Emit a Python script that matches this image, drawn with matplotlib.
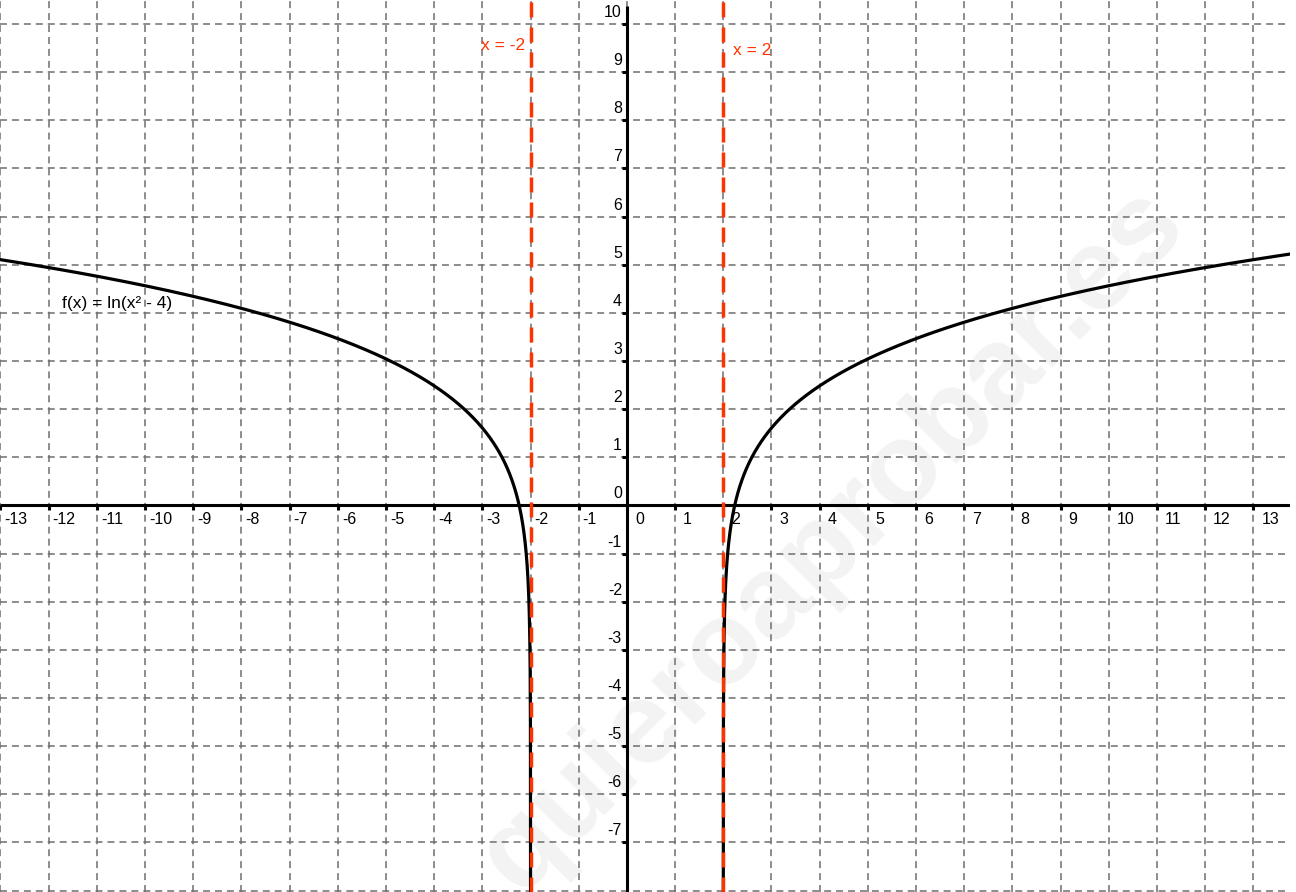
import matplotlib
matplotlib.use("Agg")
import matplotlib.pyplot as plt
import numpy as np

plt.rcParams["font.family"] = ["Liberation Sans", "DejaVu Sans"]
plt.rcParams["lines.scale_dashes"] = False

# ── view window and the function ──
X_MIN, X_MAX = -13.01, 13.76
Y_MIN, Y_MAX = -8.03, 10.50
ASYMPTOTES = [-2, 2]
ASYMPTOTE_LABELS = ["x = -2", "x = 2"]
X_TICKS = list(range(-13, 14))
Y_TICKS = list(range(-7, 11))
FUNC_LABEL = "f(x) = ln(x² - 4)"
WATERMARK = "quieroaprobar.es"

GRID_COLOR = "#6e6e6e"
RED = "#ff3300"


def f(x):
    return np.log(x ** 2 - 4)


fig = plt.figure(figsize=(12.96, 8.92), dpi=100)
ax = fig.add_axes([0, 0, 1290 / 1296, 1])
ax.set_xlim(X_MIN, X_MAX)
ax.set_ylim(Y_MIN, Y_MAX)
ax.axis("off")

# faint site watermark behind everything
ax.text(0.642, 0.395, WATERMARK, rotation=45, fontsize=84, fontweight="bold",
        color="#f3f3f3", ha="center", va="center", zorder=0,
        transform=fig.transFigure)

# dashed grid on every integer
for gx in range(int(np.ceil(X_MIN)), int(X_MAX) + 1):
    ax.plot([gx, gx], [Y_MIN, Y_MAX], color=GRID_COLOR, lw=1.1,
            linestyle=(0, (5, 3.6)), zorder=1)
for gy in range(int(np.ceil(Y_MIN)), int(Y_MAX) + 1):
    ax.plot([X_MIN, X_MAX], [gy, gy], color=GRID_COLOR, lw=1.1,
            linestyle=(0, (5, 3.6)), zorder=1)

# axes lines
ax.plot([X_MIN, X_MAX], [0, 0], color="black", lw=2.2, zorder=3,
        solid_capstyle="butt")
ax.plot([0, 0], [Y_MIN, 10.38], color="black", lw=2.2, zorder=3,
        solid_capstyle="butt")

# tick marks: down on the x axis, left on the y axis
ax.plot(X_TICKS, [0] * len(X_TICKS), linestyle="none", marker=3,
        markersize=3.6, markeredgewidth=2.2, color="black", zorder=4)
ax.plot([0] * len(Y_TICKS), Y_TICKS, linestyle="none", marker=0,
        markersize=3.6, markeredgewidth=2.2, color="black", zorder=4)

# tick labels
for t in X_TICKS:
    dx = 4 if t < 0 else 8
    ax.annotate(str(t), (t, 0), xytext=(dx, -7), textcoords="offset pixels",
                ha="left", va="top", fontsize=11.5, color="black", zorder=5,
                annotation_clip=False)
for t in Y_TICKS:
    ax.annotate(str(t), (0, t), xytext=(-5, 4), textcoords="offset pixels",
                ha="right", va="bottom", fontsize=11.5, color="black", zorder=5)

# vertical asymptotes
for a in ASYMPTOTES:
    ax.plot([a, a], [Y_MIN, Y_MAX], color=RED, lw=2.5,
            linestyle=(0, (10.8, 7.2)), zorder=6)
ax.text(-2.12, 9.56, ASYMPTOTE_LABELS[0], color=RED, fontsize=12.5,
        ha="right", va="center", zorder=7)
ax.text(2.2, 9.46, ASYMPTOTE_LABELS[1], color=RED, fontsize=12.5,
        ha="left", va="center", zorder=7)

# the two branches of f
offs = np.geomspace(1e-6, 12, 3000)
x_left = -2 - offs
x_right = 2 + offs
ax.plot(x_left, f(x_left), color="black", lw=2.3, zorder=5)
ax.plot(x_right, f(x_right), color="black", lw=2.3, zorder=5)

ax.text(-11.72, 4.2, FUNC_LABEL, fontsize=12.5, color="black",
        ha="left", va="center", zorder=7)

fig.savefig("out.png", dpi=100, facecolor="white")
